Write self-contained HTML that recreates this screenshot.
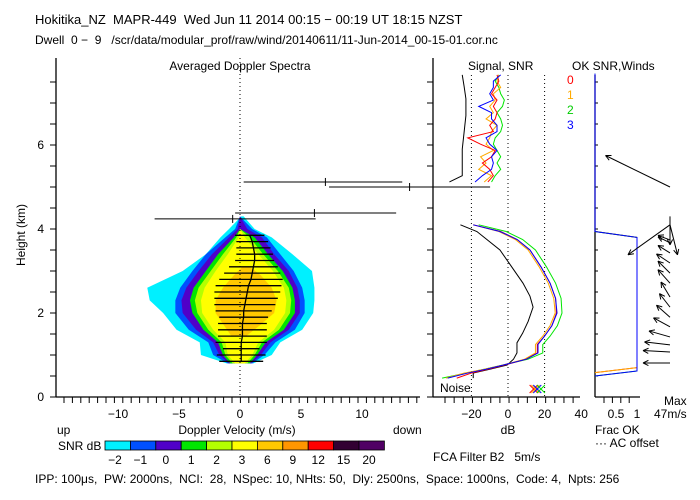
<!DOCTYPE html>
<html><head><meta charset="utf-8"><style>
body{margin:0;background:#fff;}
svg{display:block;font-family:"Liberation Sans",sans-serif;}
text{font-size:12px;fill:#000;white-space:pre;}
</style></head><body>
<svg id="chart" width="700" height="500" viewBox="0 0 700 500" xmlns="http://www.w3.org/2000/svg" xml:space="preserve">
<text x="35" y="24" style="font-size:13px">Hokitika_NZ  MAPR-449  Wed Jun 11 2014 00:15 − 00:19 UT 18:15 NZST</text>
<text x="35" y="44" style="font-size:12px">Dwell  0 −  9   /scr/data/modular_prof/raw/wind/20140611/11-Jun-2014_00-15-01.cor.nc</text>
<text x="240" y="70" text-anchor="middle">Averaged Doppler Spectra</text>
<text x="468" y="70">Signal, SNR</text>
<text x="572" y="70">OK SNR,Winds</text>
<g id="plot"></g>
<text x="57" y="434">up</text>
<text x="393" y="434">down</text>
<text x="237" y="434" text-anchor="middle">Doppler Velocity (m/s)</text>
<text x="508" y="434" text-anchor="middle">dB</text>
<text x="58" y="450">SNR dB</text>
<text x="25" y="235" text-anchor="middle" transform="rotate(-90 25 235)">Height (km)</text>
<text x="664" y="405">Max</text>
<text x="654" y="418">47m/s</text>
<text x="595" y="434">Frac OK</text>
<text x="595" y="447">··· AC offset</text>
<text x="433" y="461">FCA Filter B2   5m/s</text>
<text x="35" y="483">IPP: 100μs,  PW: 2000ns,  NCI:  28,  NSpec: 10, NHts: 50,  Dly: 2500ns,  Space: 1000ns,  Code: 4,  Npts: 256</text>
<text x="440" y="392">Noise</text>
<text x="567" y="84" style="fill:#ff0000">0</text>
<text x="567" y="99" style="fill:#ffaa00">1</text>
<text x="567" y="114" style="fill:#00cc00">2</text>
<text x="567" y="129" style="fill:#0000ff">3</text>
</svg>
<script>
// ---- data ----
const contourHeights=[0.8,1.0,1.3,1.6,2.0,2.3,2.6,3.0,3.4,3.8,4.0,4.3];
const cyanL=[-1.1,-3.2,-3.3,-5.2,-6.3,-7.4,-7.6,-4.7,-2.8,-1.6,-0.9,0.1];
const cyanR=[1.1,2.6,3.3,5.1,6.0,6.1,6.1,5.9,4.3,2.6,1.2,0.3];
const blueL=[-1.0,-2.2,-2.6,-4.2,-5.3,-5.3,-4.9,-3.9,-2.8,-1.2,-0.4,0];
const blueR=[1.0,2.0,2.9,4.5,5.3,5.3,5.1,4.4,3.3,2.2,1.0,0];
const purpleL=[-0.9,-1.7,-2.2,-3.6,-4.7,-4.8,-4.4,-3.4,-2.3,-0.9,-0.2,0];
const purpleR=[0.9,1.7,2.5,4.0,4.9,4.9,4.7,4.0,2.8,1.8,0.6,0];
const greenL=[-0.8,-1.4,-1.8,-3.0,-3.9,-4.1,-3.8,-2.8,-1.8,-0.5,0,0];
const greenR=[0.8,1.4,2.1,3.6,4.5,4.5,4.3,3.5,2.3,1.2,0,0];
const ygL=[-0.6,-1.2,-1.5,-2.6,-3.5,-3.7,-3.4,-2.4,-1.4,-0.3,0,0];
const ygR=[0.6,1.2,1.8,3.2,4.1,4.2,4.0,3.1,1.9,0.8,0,0];
const yellowL=[-0.4,-1.0,-1.2,-2.2,-3.1,-3.2,-2.9,-2.0,-1.0,-0.1,0,0];
const yellowR=[0.4,1.0,1.5,2.8,3.7,3.8,3.6,2.7,1.5,0.4,0,0];
const orangeHeights=[1.45,1.7,2.0,2.3,2.6,2.9,3.1];
const orangeL=[-0.7,-1.3,-2.0,-2.0,-1.4,-0.5,0.2];
const orangeR=[0.5,1.6,2.8,3.0,2.6,1.7,0.8];
const gateHeights=[0.85,1.0,1.15,1.3,1.45,1.6,1.75,1.9,2.05,2.2,2.35,2.5,2.65,2.8,2.95,3.1,3.25,3.4,3.55,3.7,3.85];
const meanVel=[0.1,0.1,0.1,0.1,0.2,0.2,0.2,0.3,0.3,0.4,0.5,0.6,0.7,0.9,1.0,1.1,1.2,1.2,1.1,1.0,0.8];
const halfWidth=[1.8,2.0,1.5,2.1,2.0,2.0,2.0,2.0,2.3,2.5,2.6,2.7,2.7,2.6,2.3,2.0,1.6,1.5,1.4,1.3,1.2];
const upperHeights=[5.12,5.0,4.38,4.24];
const upperMean=[7.0,13.9,6.1,-0.6];
const upperLo=[0.3,7.3,-0.4,-7.0];
const upperHi=[13.3,20.5,12.8,6.2];
const sigLowH=[0.45,0.57,0.66,0.76,0.9,1.05,1.25,1.45,1.7,2.0,2.35,2.71,3.1,3.5,3.75,3.94,4.1];
const snrRed=[-28,-20,-11,-2,10,16,16,20,24,26.5,26,23,18,12,5,-4,-19];
const snrOrange=[-34,-24,-13,-3,9,15,15,19,23,25.8,25,22,17,11,4,-5,-19];
const snrGreen=[-36,-23,-13,-3,11,19,19,23,27,29.5,29,26,21,15,8,-1,-16];
const snrBlue=[-33,-22,-12,-2.7,10,16.4,16.4,20,24,26.8,26,23,18,12,5,-4.4,-19];
const sigBlackH=[0.45,0.57,0.66,0.76,0.9,1.05,1.29,1.52,1.8,2.14,2.4,2.71,3.1,3.5,3.94,4.1];
const sigBlack=[-19,-19,-10,-0.5,3,4.9,4.9,8,11,13.7,12,8.2,2,-4.4,-17,-26];
const sigUpH=[5.12,5.27,5.42,5.57,5.72,5.87,6.02,6.17,6.32,6.47,6.62,6.77,6.92,7.07,7.22,7.37,7.52,7.67];
const upRed=[-11,-8,-10,-14,-9,-7,-15,-22,-8,-10,-7,-6,-8,-6,-9,-7,-5,-6];
const upOrange=[-13,-9,-16,-12,-15,-8,-12,-10,-9,-6,-12,-8,-10,-7,-8,-4,-6,-5];
const upGreen=[-9,-7,-4,-6,-4,-6,-8,-7,-4,-3,-4,-6,-3,-2,-4,-5,-7,-5];
const upBlue=[-18,-14,-9,-8,-9,-6,-10,-12,-6,-6,-9,-9,-16,-8,-10,-8,-8,-4];
const sigUpBlackH=[5.12,5.27,5.5,5.9,6.3,6.7,7.1,7.4,7.67];
const sigUpBlack=[-32,-25,-25,-25,-24,-23,-23,-24,-25];
const fracH=[7.7,3.94,3.8,0.62,0.5];
const fracBlue=[0,0,1,1,0];
const fracRedH=[3.94,3.8,0.7,0.58];
const fracRed=[0,1,1,0];
const windH=[0.81,1.07,1.24,1.43,1.67,1.9,2.14,2.38,2.71,2.95,3.19,3.43,3.67,3.74,4.1,4.1,4.3,5.0];
const windU=[-18,-18,-17,-14,-11,-9,-7,-6,-8,-8,-9,-8,-8,-8,-28,5,0,-43];
const windV=[0,1,2,4,6,8,9,10,9,8,6,5,4,3,-20,-20,-19,21];
const snrLevels=["−2","−1","0","1","2","3","6","9","12","15","20"];
const snrColors=["#00f0ff","#0050ff","#5000c8","#00e600","#b4ff00","#ffff00","#ffc800","#ff9600","#ff0000","#320032","#500064"];
const velTicks=[-10,-5,0,5,10];
const dbTicks=[-20,0,20,40];
const heightTicks=[0,2,4,6];
// ---- scales ----
const vx=v=>240+v*12.2;
const hy=h=>397-h*42;
const dx=d=>508+d*1.83;
const fx=f=>595+f*42;
const NS="http://www.w3.org/2000/svg";
const plot=document.getElementById('plot');
function mk(tag,attrs,parent){const e=document.createElementNS(NS,tag);for(const k in attrs)e.setAttribute(k,attrs[k]);(parent||plot).appendChild(e);return e;}
const levels=[[cyanL,cyanR,contourHeights,snrColors[0]],[blueL,blueR,contourHeights,snrColors[1]],[purpleL,purpleR,contourHeights,snrColors[2]],[greenL,greenR,contourHeights,snrColors[3]],[ygL,ygR,contourHeights,snrColors[4]],[yellowL,yellowR,contourHeights,snrColors[5]],[orangeL,orangeR,orangeHeights,snrColors[6]]];
levels.forEach((lv,i)=>{const [L,R,H,c]=lv;let pts=[];for(let j=0;j<H.length;j++)pts.push(vx(L[j])+','+hy(H[j]));for(let j=H.length-1;j>=0;j--)pts.push(vx(R[j])+','+hy(H[j]));
const p=mk('polygon',{points:pts.join(' '),fill:c});

});
const z=mk('line',{x1:vx(0),y1:58,x2:vx(0),y2:397,stroke:'#000','stroke-dasharray':'1,3'});


let mpts=[];
gateHeights.forEach((h,i)=>{const b=mk('line',{x1:vx(meanVel[i]-halfWidth[i]),x2:vx(meanVel[i]+halfWidth[i]),y1:hy(h),y2:hy(h),stroke:'#000','stroke-width':1.3});


mpts.push(vx(meanVel[i])+','+hy(h));});
const ml=mk('polyline',{points:mpts.join(' '),fill:'none',stroke:'#000','stroke-width':1.3});


upperHeights.forEach((h,i)=>{const g=mk('g',{});


mk('line',{x1:vx(upperLo[i]),x2:vx(upperHi[i]),y1:hy(h),y2:hy(h),stroke:'#000'},g);
mk('line',{x1:vx(upperMean[i]),x2:vx(upperMean[i]),y1:hy(h)-4,y2:hy(h)+4,stroke:'#000'},g);});
function axisLine(x1,y1,x2,y2,name){const l=mk('line',{x1,y1,x2,y2,stroke:'#000','stroke-width':1.3});

}
axisLine(56,58,56,397,'spectra-y-axis');axisLine(56,397,420,397,'spectra-x-axis');
axisLine(433,58,433,397,'signal-y-axis');axisLine(433,397,580,397,'signal-x-axis');
axisLine(595,75,595,397,'winds-y-axis');axisLine(595,397,640,397,'winds-x-axis');
for(let x=64;x<420;x+=8.4)mk('line',{x1:x,x2:x,y1:397,y2:403,stroke:'#000'});
for(let x=445;x<=580;x+=9.15)mk('line',{x1:x,x2:x,y1:397,y2:403,stroke:'#000'});
for(let x=604;x<=637;x+=8.4)mk('line',{x1:x,x2:x,y1:397,y2:403,stroke:'#000'});
for(let h=0;h<=7.5;h+=0.5){mk('line',{x1:56,x2:50,y1:hy(h),y2:hy(h),stroke:'#000'});mk('line',{x1:433,x2:427,y1:hy(h),y2:hy(h),stroke:'#000'});mk('line',{x1:595,x2:598,y1:hy(h),y2:hy(h),stroke:'#000'});}
velTicks.forEach(v=>{const t=mk('text',{x:vx(v),y:418,'text-anchor':'middle'});t.textContent=v<0?'−'+(-v):v;

});
dbTicks.forEach(v=>{const t=mk('text',{x:dx(v),y:418,'text-anchor':'middle'});t.textContent=v<0?'−'+(-v):v;

});
[[0.5,'0.5'],[1,'1']].forEach(([f,s])=>{const t=mk('text',{x:fx(f),y:418,'text-anchor':'middle'});t.textContent=s;

});
heightTicks.forEach(h=>{const t=mk('text',{x:44,y:hy(h)+4,'text-anchor':'end'});t.textContent=h;

});
[-20,0,20].forEach(d=>{const l=mk('line',{x1:dx(d),x2:dx(d),y1:75,y2:397,stroke:'#000','stroke-dasharray':'1,3'});

});
function series(H,V,c,name,xs){const p=mk('polyline',{points:H.map((h,i)=>xs(V[i])+','+hy(h)).join(' '),fill:'none',stroke:c,'stroke-width':1});

}
series(sigBlackH,sigBlack,'#000','signal-line-lower',dx);
series(sigUpBlackH,sigUpBlack,'#000','signal-line-upper',dx);
[[snrGreen,upGreen,'#00e600'],[snrOrange,upOrange,'#ffaa00'],[snrRed,upRed,'#ff0000'],[snrBlue,upBlue,'#0000ff']].forEach(([lo,up,c],i)=>{series(sigLowH,lo,c,'snr-beam-lower-'+i,dx);series(sigUpH,up,c,'snr-beam-upper-'+i,dx);});
[['#ff0000',14],['#ffaa00',15],['#0000ff',16],['#00e600',18]].forEach(([c,d])=>{const g=mk('g',{stroke:c});


mk('line',{x1:dx(d)-4,x2:dx(d)+4,y1:385,y2:393},g);mk('line',{x1:dx(d)+4,x2:dx(d)-4,y1:385,y2:393},g);});
series(fracRedH,fracRed,'#ff0000','frac-ok-beam-0',fx);
series(fracRedH,fracRed,'#ffaa00','frac-ok-beam-1',fx);
series(fracH,fracBlue,'#00e600','frac-ok-beam-2',fx);
series(fracH,fracBlue,'#0000ff','frac-ok-beam-3',fx);
windH.forEach((h,i)=>{const x1=670,y1=hy(h),x2=x1+windU[i]*1.5,y2=y1-windV[i]*1.5;const g=mk('g',{stroke:'#000',fill:'none'});


mk('line',{x1,y1,x2,y2},g);const a=Math.atan2(y1-y2,x1-x2);[0.45,-0.45].forEach(o=>mk('line',{x1:x2,y1:y2,x2:x2+6*Math.cos(a+o),y2:y2+6*Math.sin(a+o)},g));});
snrColors.forEach((c,i)=>{const r=mk('rect',{x:105+i*25.4,y:441,width:25.4,height:9,fill:c,stroke:'#000','stroke-width':0.8});


const t=mk('text',{x:105+i*25.4+10,y:464,'text-anchor':'middle'});t.textContent=snrLevels[i];

});
</script>
</body></html>
